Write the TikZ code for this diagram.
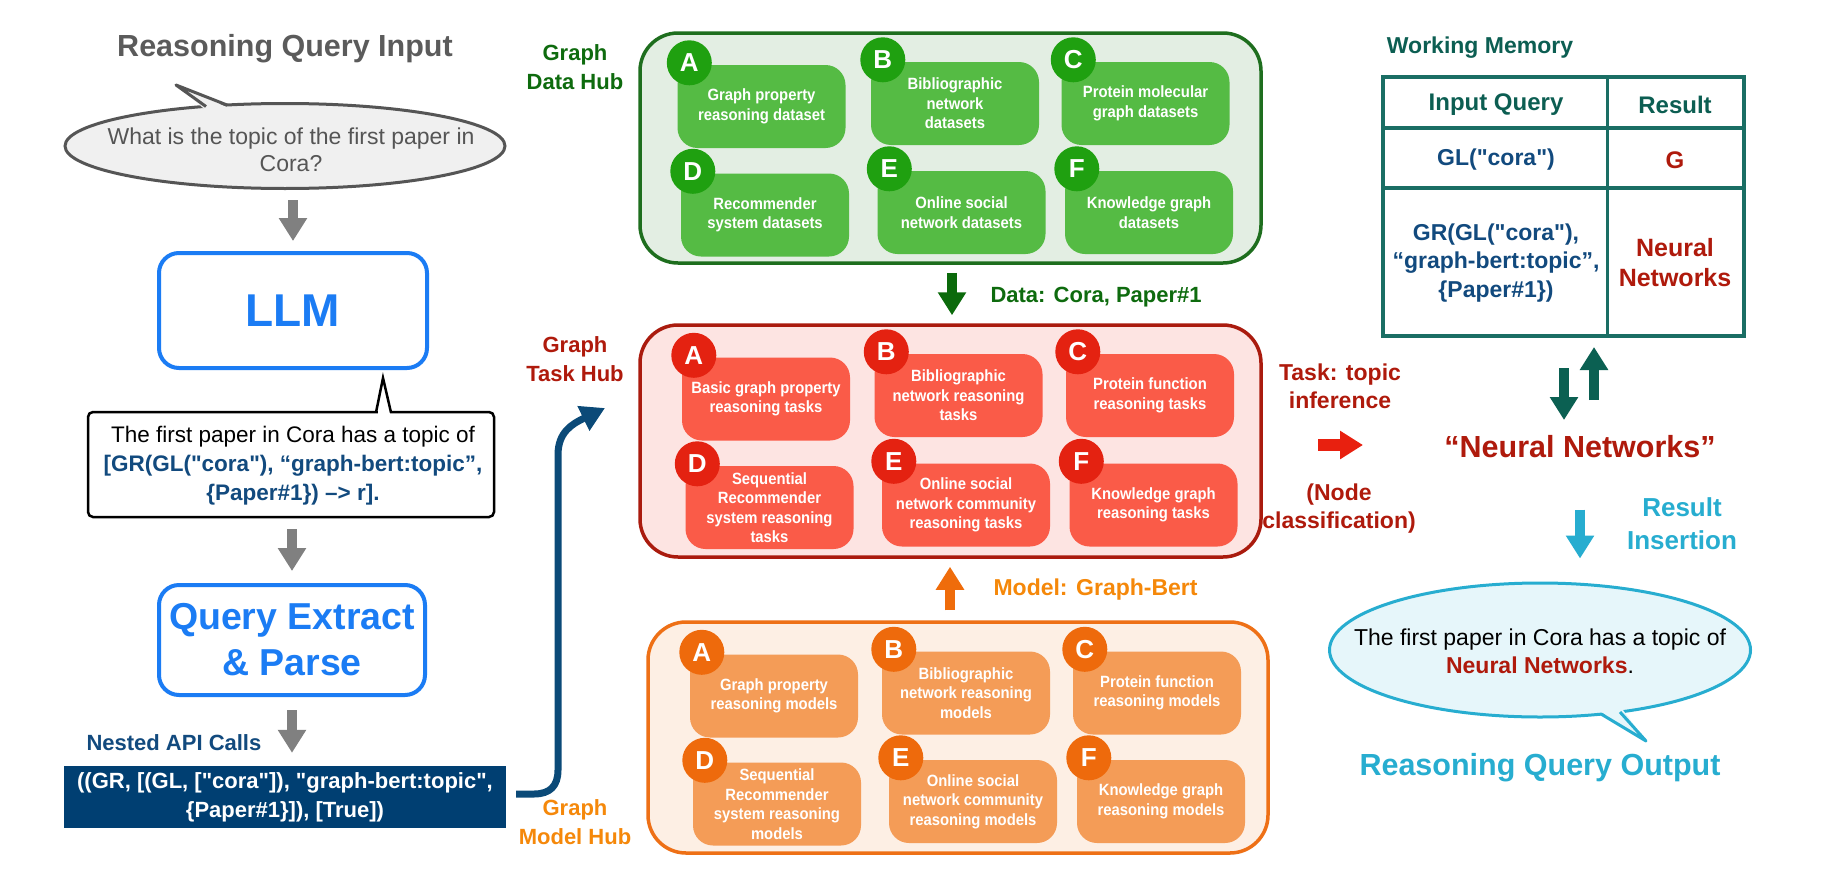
\documentclass[tikz,border=0pt]{standalone}
\usepackage{fontspec}
\setmainfont{Liberation Sans}[Ligatures=TeXOff]
\newfontfamily\condf{Liberation Sans}[Ligatures=TeXOff,FakeStretch=0.91]
\usetikzlibrary{arrows.meta,shapes.geometric,calc}
\definecolor{qgray}{HTML}{555555}
\definecolor{tgray}{HTML}{5B5B5B}
\definecolor{qfill}{HTML}{F0F0F0}
\definecolor{llmblue}{HTML}{1B7CF4}
\definecolor{dblue}{HTML}{124A7E}
\definecolor{apiblue}{HTML}{003F72}
\definecolor{navblue}{HTML}{0B4A78}
\definecolor{gdark}{HTML}{0E6B0E}
\definecolor{ghstroke}{HTML}{1E6E1E}
\definecolor{ghfill}{HTML}{E3EEE3}
\definecolor{gbox}{HTML}{55BB44}
\definecolor{gcirc}{HTML}{1FA010}
\definecolor{garrow}{HTML}{0B6A0B}
\definecolor{rdark}{HTML}{AF1A0C}
\definecolor{rhstroke}{HTML}{AA1B0E}
\definecolor{rhfill}{HTML}{FDE4E2}
\definecolor{rbox}{HTML}{FA5B48}
\definecolor{rcirc}{HTML}{E42211}
\definecolor{redarrow}{HTML}{E8200F}
\definecolor{olab}{HTML}{F5880A}
\definecolor{ohstroke}{HTML}{EE7016}
\definecolor{ohfill}{HTML}{FDEFE4}
\definecolor{obox}{HTML}{F49C57}
\definecolor{ocirc}{HTML}{EE6A0C}
\definecolor{oarrow}{HTML}{EF6C0B}
\definecolor{tealtext}{HTML}{0C5E52}
\definecolor{tblline}{HTML}{1A6E64}
\definecolor{tealarrow}{HTML}{0B6052}
\definecolor{cyanc}{HTML}{27ADD0}
\definecolor{ofill}{HTML}{E6F6FA}
\definecolor{garr}{HTML}{808080}
\newcommand\fsz[2]{\fontsize{#1}{#2}\selectfont}
\tikzset{
  blk/.style={line width=10.5pt,-{Triangle[width=27pt,length=23pt]}},
  hubbox/.style={line width=3.5pt,rounded corners=38pt,inner sep=0pt},
  cellbox/.style={rounded corners=20pt,minimum width=168pt,minimum height=83pt,inner sep=0pt,
    text=white,font=\condf\bfseries\fsz{16.3}{19.5},align=center},
  badge/.style={circle,minimum size=45pt,inner sep=0pt,text=white,font=\bfseries\fsz{26}{26}},
  hublabel/.style={font=\bfseries\fsz{22}{29},align=center},
  sidelabel/.style={font=\bfseries\fsz{23}{28},align=center},
  tcell/.style={font=\bfseries\fsz{24}{28.5},align=center},
}
\newcommand\hubcell[7]{%
  \node[cellbox,fill=#4] (#1) at (#2,#3) {#7};
  \node[badge,fill=#5] (#1l) at ($(#1.north west)+(12,-2)$) {#6};
}
\begin{document}
\begin{tikzpicture}[x=1pt,y=-1pt]
\useasboundingbox[fill=white] (0,0) rectangle (1846,886);

% ---------- left column ----------
\node[text=tgray,font=\bfseries\fsz{30.5}{34}] (ititle) at (285,49) {Reasoning Query Input};
\node[ellipse,draw=qgray,fill=qfill,line width=3pt,minimum width=440pt,minimum height=85pt,inner sep=0pt] (q) at (285,146) {};
\fill[qfill] (205,109.5) -- (176,85) -- (229,108) -- cycle;
\draw[qgray,line width=3pt,line join=round] (206,106.5) -- (176,85) -- (227,105);
\node[text=qgray,font=\fsz{23}{27},align=center] (qt) at (291,150) {What is the topic of the first paper in\\Cora?};

\node[draw=llmblue,line width=4pt,rounded corners=20pt,minimum width=268pt,minimum height=115pt,
  text=llmblue,font=\bfseries\fsz{46}{50}] (llm) at (293,310.5) {LLM};

\node[draw=black,line width=2.5pt,rounded corners=5pt,fill=white,minimum width=406pt,minimum height=105pt] (resp) at (291,464.5) {};
\fill[white] (377.5,408) rectangle (389.5,414.5);
\draw[black,line width=2.5pt,line join=miter] (376,412.5) -- (383,378) -- (391,412.5);
\node[font=\fsz{22.5}{29},align=center] (respt) at (293,466)
  {The first paper in Cora has a topic of\\
   {\bfseries\color{dblue}[GR(GL("cora"), “graph-bert:topic”,}\\
   {\bfseries\color{dblue}\{Paper\#1\}) –> r].}};

\node[draw=llmblue,line width=4pt,rounded corners=20pt,minimum width=266pt,minimum height=110pt,
  text=llmblue,font=\bfseries\fsz{37.5}{46},align=center] (qe) at (292,640) {Query Extract\\\& Parse};

\node[anchor=west,text=dblue,font=\bfseries\fsz{22}{26}] (nested) at (83,743) {Nested API Calls};
\node[fill=apiblue,minimum width=442pt,minimum height=62pt,inner sep=0pt,text=white,
  font=\bfseries\fsz{22}{29},align=center] (api) at (285,797)
  {((GR, [(GL, ["cora"]), "graph-bert:topic",\\\{Paper\#1\}]), [True])};

\draw[blk,garr,shorten <=10pt,shorten >=10pt] (llm.north |- q.south) -- (llm.north);
\draw[blk,garr,shorten <=11pt,shorten >=12pt] (qe.north |- resp.south) -- (qe.north);
\draw[blk,garr,shorten <=13pt,shorten >=13pt] (qe.south) -- (qe.south |- api.north);

\coordinate (navtip) at (605,408);
\draw[navblue,line width=7pt,-{Triangle[width=26pt,length=24pt]}]
  ($(api.east)+(10,-3)$) -- (534,794) .. controls (550,794) and (558,786) .. (558,770)
  -- (558,455) .. controls (558,432) and (572,424) .. (navtip);

% ---------- hub labels ----------
\node[hublabel,text=gdark] (glab) at (575,67.5) {Graph\\Data Hub};
\node[hublabel,text=rdark] (rlab) at (575,359) {Graph\\Task Hub};
\node[hublabel,text=olab] (olabn) at (575,822.5) {Graph\\Model Hub};

% ---------- Graph Data Hub ----------
\node[hubbox,draw=ghstroke,fill=ghfill,minimum width=621pt,minimum height=230pt] (gh) at (950.5,148) {};
\hubcell{gA}{761.5}{106.5}{gbox}{gcirc}{A}{Graph property\\reasoning dataset}
\hubcell{gB}{955}{103.5}{gbox}{gcirc}{B}{Bibliographic\\network\\datasets}
\hubcell{gC}{1145.5}{103.5}{gbox}{gcirc}{C}{Protein molecular\\graph datasets}
\hubcell{gD}{765}{215}{gbox}{gcirc}{D}{Recommender\\system datasets}
\hubcell{gE}{961.5}{212.5}{gbox}{gcirc}{E}{Online social\\network datasets}
\hubcell{gF}{1149}{212.5}{gbox}{gcirc}{F}{Knowledge graph\\datasets}

% ---------- Graph Task Hub ----------
\node[hubbox,draw=rhstroke,fill=rhfill,minimum width=621pt,minimum height=232pt] (rh) at (950.5,441) {};
\hubcell{rA}{766}{399}{rbox}{rcirc}{A}{Basic graph property\\reasoning tasks}
\hubcell{rB}{958.5}{395.5}{rbox}{rcirc}{B}{Bibliographic\\network reasoning\\tasks}
\hubcell{rC}{1150}{395.5}{rbox}{rcirc}{C}{Protein function\\reasoning tasks}
\hubcell{rD}{769.5}{507.5}{rbox}{rcirc}{D}{Sequential\\Recommender\\system reasoning\\tasks}
\hubcell{rE}{966}{505}{rbox}{rcirc}{E}{Online social\\network community\\reasoning tasks}
\hubcell{rF}{1153.5}{505}{rbox}{rcirc}{F}{Knowledge graph\\reasoning tasks}

% ---------- Graph Model Hub ----------
\node[hubbox,draw=ohstroke,fill=ohfill,minimum width=620pt,minimum height=231pt] (oh) at (958,737.5) {};
\hubcell{oA}{774}{696}{obox}{ocirc}{A}{Graph property\\reasoning models}
\hubcell{oB}{966}{693}{obox}{ocirc}{B}{Bibliographic\\network reasoning\\models}
\hubcell{oC}{1157}{693}{obox}{ocirc}{C}{Protein function\\reasoning models}
\hubcell{oD}{777}{804}{obox}{ocirc}{D}{Sequential\\Recommender\\system reasoning\\models}
\hubcell{oE}{973}{801.5}{obox}{ocirc}{E}{Online social\\network community\\reasoning models}
\hubcell{oF}{1161}{801.5}{obox}{ocirc}{F}{Knowledge graph\\reasoning models}

% ---------- hub arrows ----------
\draw[blk,garrow,shorten <=8pt,shorten >=8pt] ($(gh.south)+(1.5,0)$) -- ($(rh.north)+(1.5,0)$);
\node[anchor=west,text=gdark,font=\bfseries\fsz{22}{26}] (dlab) at (987,297) {Data: Cora, Paper\#1};
\draw[blk,oarrow,shorten <=10pt,shorten >=8pt] ($(oh.north)+(-8,0)$) -- ($(rh.south)+(-0.5,0)$);
\node[anchor=west,text=olab,font=\bfseries\fsz{23}{26}] (mlab) at (990,590) {Model: Graph-Bert};

% ---------- right side ----------
\node[sidelabel,text=rdark] (task) at (1340,386) {Task: topic\\inference};
\node[sidelabel,text=rdark] (ncls) at (1339,509) {(Node\\classification)};
\node[text=rdark,font=\bfseries\fsz{30.5}{34}] (nn) at (1580,447) {“Neural Networks”};
\coordinate (ra1) at (1318,445);
\coordinate (ra2) at (1363,445);
\draw[redarrow,line width=12pt,-{Triangle[width=27pt,length=23pt]}] (ra1) -- (ra2);

\node[text=tealtext,font=\bfseries\fsz{23}{26}] (wm) at (1480,48) {Working Memory};
\node[draw=tblline,line width=3.5pt,minimum width=361pt,minimum height=259pt,inner sep=0pt] (tbl) at (1563.5,206.5) {};
\draw[tblline,line width=3.5pt] (1607.5,77) -- (1607.5,336);
\draw[tblline,line width=3.5pt] (1383,128) -- (1744,128);
\draw[tblline,line width=3.5pt] (1383,188) -- (1744,188);
\node[tcell,text=tealtext] (th1) at (1496,105) {Input Query};
\node[tcell,text=tealtext] (th2) at (1675,105) {Result};
\node[tcell,text=dblue,font=\bfseries\fsz{23}{28}] (c11) at (1496,160) {GL("cora")};
\node[tcell,text=rdark] (c12) at (1675,160) {G};
\node[tcell,text=dblue,font=\bfseries\fsz{23}{28.5}] (c21) at (1496,263) {GR(GL("cora"),\\“graph-bert:topic”,\\\{Paper\#1\})};
\node[tcell,text=rdark,font=\bfseries\fsz{25}{30}] (c22) at (1675,263) {Neural\\Networks};

\coordinate (td1) at (1564,368);
\coordinate (td2) at (1564,420);
\coordinate (tu1) at (1594,400);
\coordinate (tu2) at (1594,347);
\draw[blk,tealarrow] (td1) -- (td2);
\draw[blk,tealarrow] (tu1) -- (tu2);

\node[ellipse,draw=cyanc,fill=ofill,line width=3pt,minimum width=421pt,minimum height=134pt,inner sep=0pt] (oe) at (1540,650) {};
\fill[ofill] (1599.5,711) -- (1646,741) -- (1621.5,708) -- cycle;
\draw[cyanc,line width=3pt,line join=round] (1601,714) -- (1646,741) -- (1620,712);
\node[font=\fsz{23}{28},align=center] (ot) at (1540,651)
  {The first paper in Cora has a topic of\\{\bfseries\color{rdark}Neural Networks}.};

\draw[blk,cyanc,shorten <=48pt,shorten >=23pt] (nn.south) -- (nn.south |- oe.north);
\node[text=cyanc,font=\bfseries\fsz{26}{33},align=center] (ri) at (1682,523.5) {Result\\Insertion};
\node[text=cyanc,font=\bfseries\fsz{30.5}{34}] (otitle) at (1540,768) {Reasoning Query Output};
\end{tikzpicture}
\end{document}
